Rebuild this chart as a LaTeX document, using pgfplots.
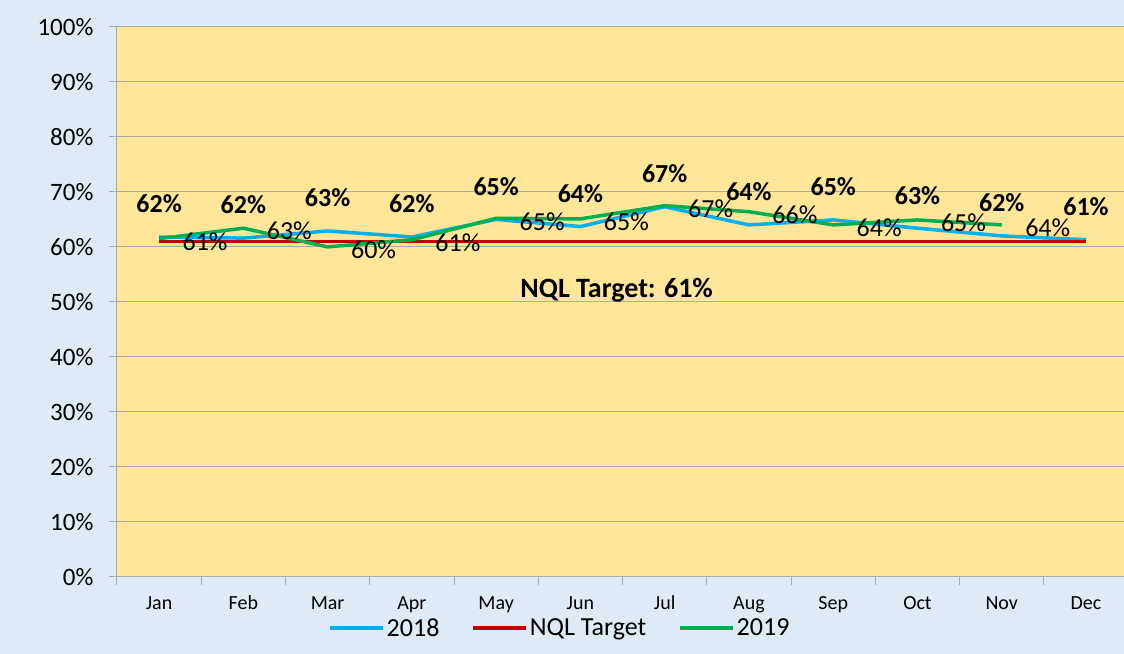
\documentclass[border=0pt]{standalone}
\usepackage{pgfplots}
\pgfplotsset{compat=1.18}
\usepackage{fontspec}
\setmainfont{Carlito}
\definecolor{bgblue}{RGB}{222,234,246}
\definecolor{plotyellow}{RGB}{255,230,153}
\definecolor{gridgray}{RGB}{170,170,170}
\definecolor{c2018}{RGB}{0,176,240}
\definecolor{cnql}{RGB}{192,0,0}
\definecolor{c2019}{RGB}{0,176,80}
\begin{document}
\begin{tikzpicture}
\fill[bgblue] (0,0) rectangle (1124pt,654pt);
\begin{axis}[
    at={(117pt,77pt)}, anchor=south west,
    scale only axis, width=1007pt, height=550pt,
    xmin=-0.5, xmax=11.445, ymin=0, ymax=100,
    axis background/.style={fill=plotyellow},
    axis x line*=bottom, axis y line*=left,
    axis line style={-, gridgray, line width=1pt},
    ymajorgrids, grid style={gridgray, line width=1pt},
    ytick={0,10,...,100},
    yticklabels={0\%,10\%,20\%,30\%,40\%,50\%,60\%,70\%,80\%,90\%,100\%},
    yticklabel style={font=\fontsize{25}{30}\selectfont, xshift=-12pt},
    xtick={-0.5,0.5,...,10.5}, xticklabels={},
    extra x ticks={0,1,...,11},
    extra x tick labels={Jan,Feb,Mar,Apr,May,Jun,Jul,Aug,Sep,Oct,Nov,Dec},
    extra x tick style={major tick length=0pt, grid=none,
        tick label style={font=\fontsize{20}{24}\selectfont,
            text height=14pt, text depth=4pt, yshift=-15pt}},
    tick align=outside, major tick length=8pt,
    tick style={gridgray, line width=1pt},
    clip=false,
    legend columns=3,
    legend style={draw=none, fill=none, at={(axis description cs:0.44,-0.093)},
        anchor=center, font=\fontsize{26}{30}\selectfont,
        /tikz/every even column/.append style={column sep=30pt},
        /tikz/every odd column/.append style={column sep=0pt}},
    legend image code/.code={\draw[#1, line width=3.5pt] (0pt,0pt) -- (53pt,0pt);},
]
\addplot[c2018, line width=3.5pt, point meta=explicit symbolic,
    nodes near coords,
    every node near coord/.append style={anchor=center, yshift=33pt,
        font=\bfseries\fontsize{26}{30}\selectfont, text=black}]
coordinates {
    (0,61.8) [62\%]
    (1,61.6) [62\%]
    (2,62.9) [63\%]
    (3,61.8) [62\%]
    (4,65.0) [65\%]
    (5,63.7) [64\%]
    (6,67.3) [67\%]
    (7,64.0) [64\%]
    (8,64.9) [65\%]
    (9,63.4) [63\%]
    (10,62.0) [62\%]
    (11,61.3) [61\%]
};
\addlegendentry{2018}
\addplot[cnql, line width=3.5pt] coordinates {
    (0,61) (1,61) (2,61) (3,61) (4,61) (5,61)
    (6,61) (7,61) (8,61) (9,61) (10,61) (11,61)
};
\addlegendentry{NQL Target}
\addplot[c2019, line width=3.5pt, point meta=explicit symbolic,
    nodes near coords,
    every node near coord/.append style={anchor=center, xshift=46pt, yshift=-3pt,
        font=\fontsize{26}{30}\selectfont, text=black}]
coordinates {
    (0,61.5) [61\%]
    (1,63.4) [63\%]
    (2,60.0) [60\%]
    (3,61.3) [61\%]
    (4,65.2) [65\%]
    (5,65.1) [65\%]
    (6,67.5) [67\%]
    (7,66.4) [66\%]
    (8,64.0) [64\%]
    (9,64.9) [65\%]
    (10,64.0) [64\%]
};
\addlegendentry{2019}
\node[font=\bfseries\fontsize{28}{32}\selectfont] at (axis cs:5.43,52.2) {NQL Target: 61\%};
\end{axis}
\end{tikzpicture}
\end{document}
